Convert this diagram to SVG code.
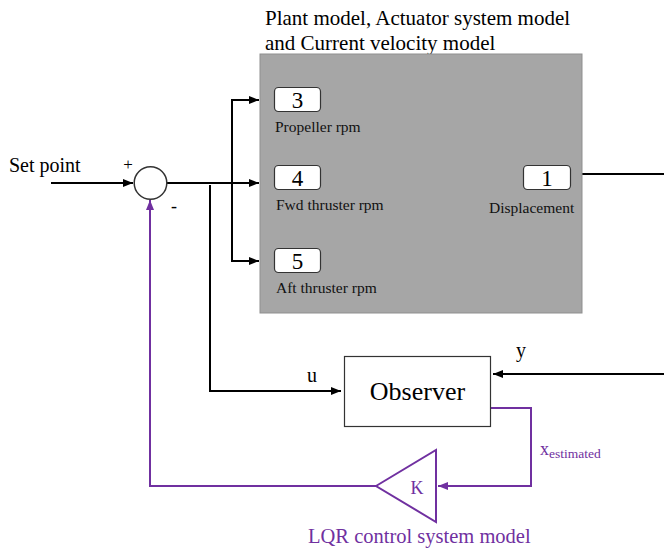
<svg xmlns="http://www.w3.org/2000/svg" width="664" height="553" viewBox="0 0 664 553" font-family="'Liberation Serif', 'Times New Roman', 'DejaVu Serif', serif">
<defs>
<style>
text{font-family:'Liberation Serif','Times New Roman','DejaVu Serif',serif;fill:#000}
.blk{fill:none;stroke:#000;stroke-width:2}
.pur{fill:none;stroke:#7030a0;stroke-width:2}
.port{fill:#fff;stroke:#333;stroke-width:1.2}
.num{font-size:23px;text-anchor:middle}
.lbl{font-size:15.5px;fill:#111}
.ptxt{fill:#7030a0}
</style>
<marker id="ab" markerUnits="userSpaceOnUse" markerWidth="10" markerHeight="8" refX="10" refY="4" orient="auto"><path d="M0,0 L10,4 L0,8 z" fill="#000"/></marker>
<marker id="ap" markerUnits="userSpaceOnUse" markerWidth="10" markerHeight="8" refX="10" refY="4" orient="auto"><path d="M0,0 L10,4 L0,8 z" fill="#7030a0"/></marker>
</defs>
<rect width="664" height="553" fill="#fff"/>

<g id="connectors">
<path class="blk" d="M51,183 H133" marker-end="url(#ab)"/>
<path class="blk" d="M167,183 H259" marker-end="url(#ab)"/>
<path class="blk" d="M232,183 V100 H259" marker-end="url(#ab)"/>
<path class="blk" d="M232,183 V261 H259" marker-end="url(#ab)"/>
<path class="blk" d="M210,185 V391 H341" marker-end="url(#ab)"/>
<path class="blk" d="M582,174 H664"/>
<path class="blk" d="M664,374 H493" marker-end="url(#ab)"/>
<path class="pur" d="M491,408 H531 V486 H438" marker-end="url(#ap)"/>
<path class="pur" d="M376,486 H150 V200" marker-end="url(#ap)"/>
</g>

<g id="setpoint">
<text x="9" y="172" font-size="20">Set point</text>
</g>

<g id="sum">
<circle cx="150.5" cy="183" r="16.3" fill="#fff" stroke="#333" stroke-width="1.5"/>
<text x="128" y="170" font-size="17" text-anchor="middle">+</text>
<text x="174" y="212" font-size="18" text-anchor="middle">-</text>
</g>

<g id="plant">
<text x="265" y="25" font-size="21">Plant model, Actuator system model</text>
<text x="265" y="50" font-size="21">and Current velocity model</text>
<rect x="260" y="54" width="322" height="259" fill="#a6a6a6" stroke="#8f8f8f" stroke-width="1"/>
</g>

<g id="port3">
<rect class="port" x="274.5" y="87.5" width="46" height="24" rx="4"/>
<text class="num" x="297.5" y="108">3</text>
<text class="lbl" x="275" y="132">Propeller rpm</text>
</g>

<g id="port4">
<rect class="port" x="274.5" y="165.5" width="46" height="24" rx="4"/>
<text class="num" x="297.5" y="186">4</text>
<text class="lbl" x="276" y="210">Fwd thruster rpm</text>
</g>

<g id="port5">
<rect class="port" x="274.5" y="248.5" width="46" height="24" rx="4"/>
<text class="num" x="297.5" y="269">5</text>
<text class="lbl" x="276" y="293">Aft thruster rpm</text>
</g>

<g id="port1">
<rect class="port" x="523.5" y="165.5" width="47" height="24" rx="4"/>
<text class="num" x="547" y="186">1</text>
<text class="lbl" x="489" y="213">Displacement</text>
</g>

<g id="observer">
<rect x="344.5" y="356.5" width="146" height="70" fill="#fff" stroke="#333" stroke-width="1.2"/>
<text x="417.5" y="400" font-size="26" text-anchor="middle">Observer</text>
</g>

<g id="labels">
<text x="312" y="382" font-size="20" text-anchor="middle">u</text>
<text x="521" y="357" font-size="20" text-anchor="middle">y</text>
<text class="ptxt" x="540" y="455" font-size="18">x<tspan font-size="13.5" dy="3">estimated</tspan></text>
</g>

<g id="gain">
<polygon points="376,486 436,450 436,522" fill="#fff" stroke="#7030a0" stroke-width="2"/>
<text class="ptxt" x="417" y="494" font-size="18" text-anchor="middle">K</text>
<text class="ptxt" x="308" y="543" font-size="20.5">LQR control system model</text>
</g>
</svg>
